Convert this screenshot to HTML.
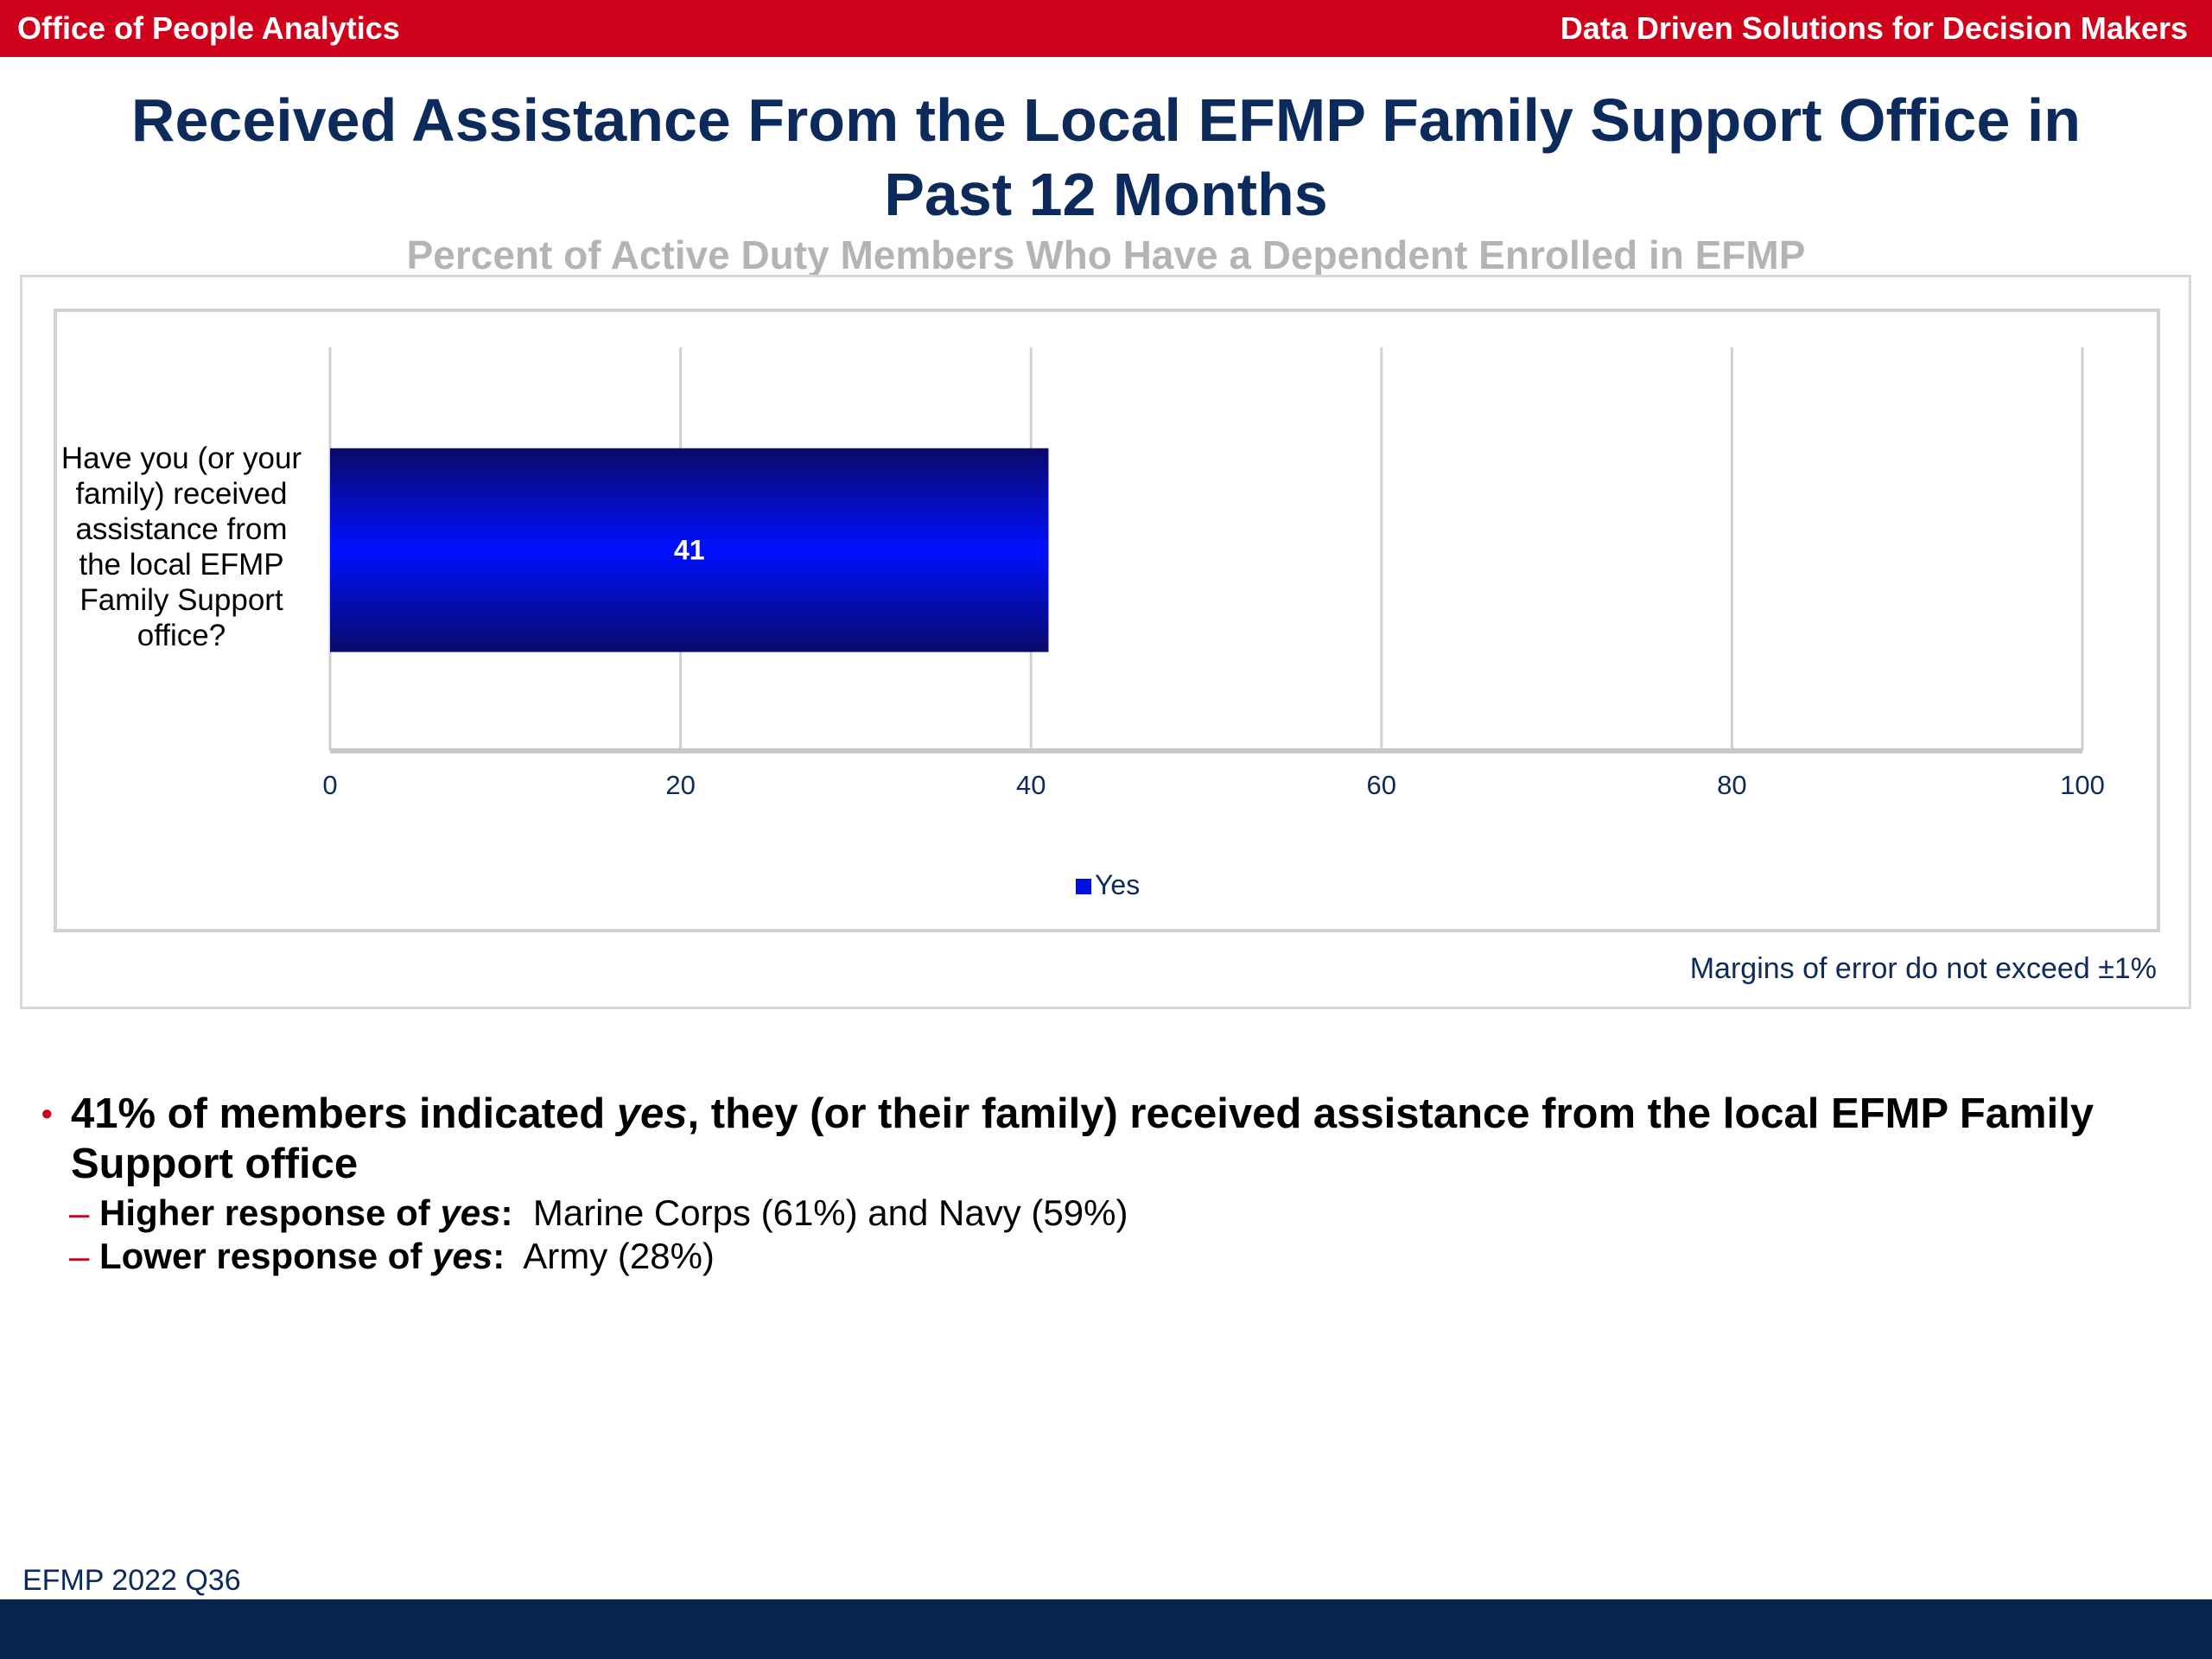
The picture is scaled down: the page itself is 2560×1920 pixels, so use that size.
<!DOCTYPE html>
<html><head><meta charset="utf-8">
<style>
body{margin:0;width:2560px;height:1920px;position:relative;background:#fff;font-family:"Liberation Sans",Arial,sans-serif;overflow:hidden}
.abs{position:absolute}
</style></head><body>
<div class="abs" style="left:0;top:0;width:2560px;height:66px;background:#d0021b"></div>
<div class="abs" style="left:20px;top:12px;color:#fff;font-weight:bold;font-size:36px">Office of People Analytics</div>
<div class="abs" style="right:28px;top:12px;color:#fff;font-weight:bold;font-size:36px">Data Driven Solutions for Decision Makers</div>
<div class="abs" style="left:0;width:2560px;top:96px;text-align:center;color:#0d2a5c;font-weight:bold;font-size:70px;line-height:86px">Received Assistance From the Local EFMP Family Support Office in<br>Past 12 Months</div>
<div class="abs" style="left:0;width:2560px;top:268px;text-align:center;color:#b4b4b4;font-weight:bold;font-size:46px">Percent of Active Duty Members Who Have a Dependent Enrolled in EFMP</div>
<div class="abs" style="left:23px;top:318px;width:2507px;height:844px;border:3px solid #d8d8d8"></div>
<div class="abs" style="left:62px;top:357px;width:2430px;height:714px;border:4px solid #d0d0d0"></div>
<svg class="abs" style="left:0;top:0" width="2560" height="1920">
<defs><linearGradient id="g" x1="0" y1="0" x2="0" y2="1">
<stop offset="0" stop-color="#0a0a6a"/><stop offset="0.5" stop-color="#0010ff"/><stop offset="1" stop-color="#0a0a6a"/></linearGradient></defs>
<g id="grid"></g><g id="bars"></g><g id="ticks"></g>
</svg>
<div class="abs" style="left:62px;width:296px;top:510px;text-align:center;font-size:35px;line-height:41px;color:#000">Have you (or your family) received assistance from the local EFMP Family Support office?</div>
<div class="abs" style="left:1245px;top:1006px;font-size:32px;color:#0d2a5c"><span style="display:inline-block;width:18px;height:18px;background:#0010e0;margin-right:4px"></span>Yes</div>
<div class="abs" style="right:64px;top:1102px;font-size:34px;color:#0d2a5c">Margins of error do not exceed ±1%</div>
<div class="abs" style="left:48px;top:1260px;width:2450px;font-size:49px;font-weight:bold;line-height:58px;color:#000"><span style="color:#d0021b;position:absolute;left:0;font-size:36px">•</span><div style="margin-left:34px">41% of members indicated <i>yes</i>, they (or their family) received assistance from the local EFMP Family Support office</div></div>
<div class="abs" style="left:80px;top:1380px;font-size:42px;color:#000"><span style="color:#d0021b">– </span><b>Higher response of <i>yes</i>:</b>&nbsp; Marine Corps (61%) and Navy (59%)</div>
<div class="abs" style="left:80px;top:1430px;font-size:42px;color:#000"><span style="color:#d0021b">– </span><b>Lower response of <i>yes</i>:</b>&nbsp; Army (28%)</div>
<div class="abs" style="left:26px;top:1810px;font-size:34px;color:#0d2a5c">EFMP 2022 Q36</div>
<div class="abs" style="left:0;top:1851px;width:2560px;height:69px;background:#062650"></div>
<script>
const categories=["Have you (or your family) received assistance from the local EFMP Family Support office?"];
const values=[41];
const tickLabels=[0,20,40,60,80,100];
const NS="http://www.w3.org/2000/svg";
const x0=382,x1=2410,yTop=402,yBot=869;
const xs=v=>x0+(v/100)*(x1-x0);
const grid=document.getElementById('grid'),bars=document.getElementById('bars'),ticks=document.getElementById('ticks');
tickLabels.forEach(t=>{
 const l=document.createElementNS(NS,'line');
 
 
 l.setAttribute('x1',xs(t));l.setAttribute('x2',xs(t));l.setAttribute('y1',yTop);l.setAttribute('y2',yBot);
 l.setAttribute('stroke','#d0d0d0');l.setAttribute('stroke-width',3);grid.appendChild(l);
 const tx=document.createElementNS(NS,'text');
 
 
 tx.setAttribute('x',xs(t));tx.setAttribute('y',919);tx.setAttribute('text-anchor','middle');
 tx.setAttribute('font-size','31');tx.setAttribute('fill','#0d2a5c');tx.textContent=t;ticks.appendChild(tx);
});
const ax=document.createElementNS(NS,'line');


ax.setAttribute('x1',x0);ax.setAttribute('x2',x1);ax.setAttribute('y1',yBot);ax.setAttribute('y2',yBot);
ax.setAttribute('stroke','#c8c8c8');ax.setAttribute('stroke-width',6);grid.appendChild(ax);
const band=(yBot-yTop)/categories.length;
values.forEach((v,i)=>{
 const by=yTop+i*band+band*0.25, bh=band*0.505;
 const r=document.createElementNS(NS,'rect');
 
 
 r.setAttribute('x',x0);r.setAttribute('y',by);r.setAttribute('width',xs(v)-x0);r.setAttribute('height',bh);
 r.setAttribute('fill','url(#g)');bars.appendChild(r);
 const t=document.createElementNS(NS,'text');
 
 
 t.setAttribute('x',(x0+xs(v))/2);t.setAttribute('y',by+bh/2+11);t.setAttribute('text-anchor','middle');
 t.setAttribute('font-size','32');t.setAttribute('font-weight','bold');t.setAttribute('fill','#fff');t.textContent=v;bars.appendChild(t);
});
</script>
</body></html>
